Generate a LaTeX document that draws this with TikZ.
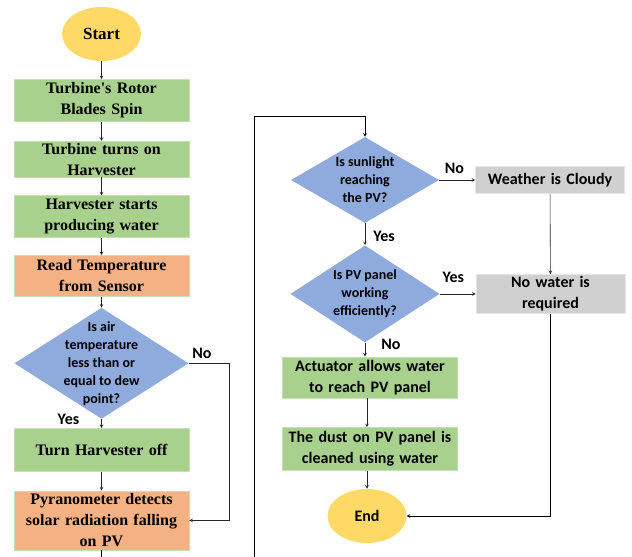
\documentclass[tikz,border=0pt]{standalone}
\usepackage{fontspec}
\setmainfont{Liberation Serif}
\newfontfamily\calibri{Carlito}
\usepackage{tikz}
\usetikzlibrary{arrows,shapes.geometric,positioning}

\definecolor{termyellow}{HTML}{FFD966}
\definecolor{procgreen}{HTML}{A9D18E}
\definecolor{sensorange}{HTML}{F4B183}
\definecolor{askblue}{HTML}{8FAADC}
\definecolor{notegrey}{HTML}{D0D0D0}
\definecolor{edgegreen}{HTML}{C5E0B4}

% text of a decision, kept out of the diamond's size
\newcommand\asktext[1]{\smash{\raisebox{-4pt}{\begin{tabular}{@{}c@{}}#1\end{tabular}}}}

\begin{document}
\begin{tikzpicture}[
            x = 1pt, y = -1pt, % pixel units, y down
            > = stealth, % arrow head style
            terminal/.style = {ellipse, fill=termyellow, minimum width=79pt, minimum height=54pt, inner sep=0pt},
            process/.style = {rectangle, fill=procgreen, draw=edgegreen, line width=0.6pt, text width=175pt, align=center, inner xsep=0pt, inner ysep=0pt, font=\fontsize{16}{21}\selectfont\bfseries},
            sensor/.style = {process, fill=sensorange},
            action/.style = {process, font=\calibri\fontsize{16}{21}\selectfont\bfseries},
            note/.style = {action, fill=notegrey, draw=white!90!black, text width=149pt},
            decision/.style = {diamond, fill=askblue, inner sep=0pt, minimum width=174pt, minimum height=111pt, font=\calibri\fontsize{14}{18}\selectfont\bfseries},
            lbl/.style = {font=\calibri\fontsize{16}{19}\selectfont\bfseries, inner sep=1pt},
            flow/.style = {->, draw=black!85, line width=0.6pt}
        ]

	\useasboundingbox (0,0) rectangle (632,557);
	\clip (0,0) rectangle (632,557);

	% left column
	\node[terminal, font=\fontsize{17}{20}\selectfont\bfseries] (start) at (101.5,34) {Start};
	\node[process, minimum height=42pt] (rotor) [below=18pt of start] {Turbine\textquotesingle s Rotor\\Blades Spin};
	\node[process, minimum height=36pt] (turnon) [below=19pt of rotor] {Turbine turns on\\Harvester};
	\node[process, minimum height=42pt] (produce) [below=18pt of turnon] {Harvester starts\\producing water};
	\node[sensor, minimum height=41pt] (readtemp) [below=17pt of produce] {Read Temperature\\from Sensor};
	\node[decision] (dew) [below=11pt of readtemp] {\asktext{Is air\\temperature\\less than or\\equal to dew\\point?}};
	\node[process, minimum height=43pt] (off) [below=9pt of dew] {Turn Harvester off};
	\node[sensor, minimum height=59pt] (pyra) [below=19pt of off] {Pyranometer detects\\solar radiation falling\\on PV};

	% right column
	\node[decision, minimum width=148pt, minimum height=86pt] (sun) at (365,180) {\asktext{Is sunlight\\reaching\\the PV?}};
	\node[note, minimum height=27pt] (cloudy) [right=36pt of sun] {Weather is Cloudy};
	\node[decision, minimum width=149pt, minimum height=97pt] (panel) [below=22pt of sun] {\asktext{Is PV panel\\working\\efficiently?}};
	\node[note, minimum height=39pt] (nowater) [right=36pt of panel] {No water is\\required};
	\node[action, minimum height=41pt] (actuator) [below=14pt of panel, xshift=5pt] {Actuator allows water\\to reach PV panel};
	\node[action, minimum height=43pt] (clean) [below=29pt of actuator] {The dust on PV panel is\\cleaned using water};
	\node[terminal, font=\calibri\fontsize{16}{19}\selectfont\bfseries] (stop) [below=18pt of clean, xshift=-3pt] {End};

	\coordinate (loopbottom) at (254,590);
	\coordinate (looptop) at (254,116);

	\draw[flow] (start) -- (rotor);
	\draw[flow] (rotor) -- (turnon);
	\draw[flow] (turnon) -- (produce);
	\draw[flow] (produce) -- (readtemp);
	\draw[flow] (readtemp) -- (dew);
	\draw[flow] (dew) -- node[lbl, pos=0, left=21pt] {Yes} (off);
	\draw[flow] (dew.east) -- node[lbl, above=3pt, pos=0.32] {No} ++(41,0) |- (pyra.east);
	\draw[flow] (off) -- (pyra);
	\draw[flow, draw=black] (pyra.south) |- (loopbottom) -- (looptop) -| (sun.north);

	\draw[flow] (sun) -- node[lbl, above=5pt, pos=0.42] {No} (cloudy);
	\draw[flow] (sun) -- node[lbl, right=7pt, pos=0.6] {Yes} (panel);
	\draw[flow] (panel) -- node[lbl, above=10pt, pos=0.38] {Yes} (nowater);
	\draw[flow] (cloudy) -- (nowater);
	\draw[flow] (panel.south) -- node[lbl, right=15pt, pos=0.15] {No} (panel.south |- actuator.north);
	\draw[flow] (actuator.south -| stop.north) -- (clean.north -| stop.north);
	\draw[flow] (clean.south -| stop.north) -- (stop);
	\draw[flow, draw=black] (nowater.south) |- (stop.east);

\end{tikzpicture}
\end{document}
